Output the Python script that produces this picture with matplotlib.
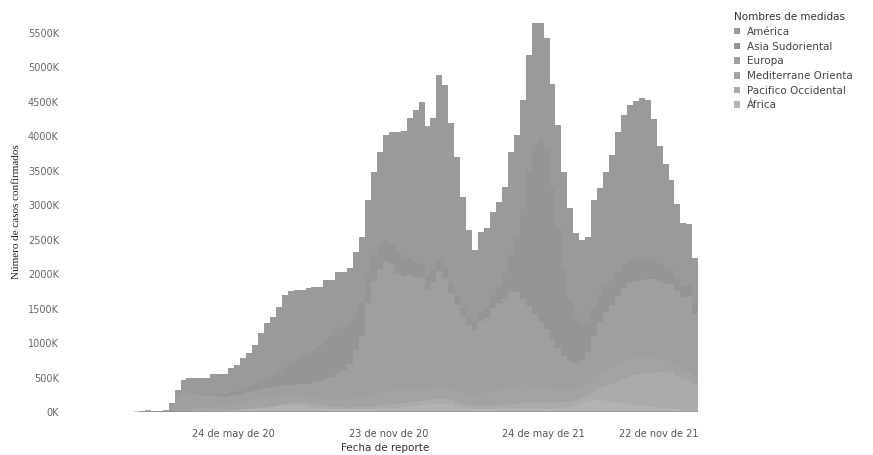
import matplotlib
matplotlib.use("Agg")
import matplotlib.pyplot as plt
from matplotlib.patches import Patch
import numpy as np
import pandas as pd

# weekly confirmed cases by WHO region, thousands
semanas = pd.date_range("2020-01-27", periods=95, freq="7D")

africa = [0, 0, 0, 0, 0, 0, 1, 2, 5, 7, 8, 9, 10, 14, 16, 18, 22, 28, 32, 38,
          45, 55, 65, 75, 85, 95, 100, 95, 85, 75, 65, 55, 50, 45, 42, 40, 40, 42, 42, 45,
          48, 52, 56, 60, 65, 70, 80, 90, 100, 105, 110, 120, 115, 100, 85, 70, 55, 48, 45, 45,
          48, 52, 55, 58, 60, 60, 58, 55, 52, 50, 50, 52, 58, 70, 90, 115, 140, 170, 175, 165,
          150, 135, 125, 110, 100, 90, 80, 70, 60, 52, 45, 40, 36, 34, 30]
pacifico = [5, 19, 24, 9, 6, 10, 6, 8, 10, 12, 14, 12, 10, 8, 7, 6, 7, 7, 8, 9,
            10, 12, 14, 18, 22, 28, 35, 40, 45, 48, 45, 40, 35, 30, 28, 26, 25, 25, 26, 30,
            35, 40, 45, 50, 52, 55, 60, 62, 66, 68, 75, 80, 78, 70, 60, 50, 42, 38, 40, 42,
            45, 48, 50, 55, 60, 65, 70, 75, 80, 85, 88, 90, 88, 85, 88, 95, 110, 140, 170, 210,
            260, 310, 360, 400, 430, 460, 480, 500, 520, 530, 520, 480, 440, 420, 380]
mediterraneo = [0, 0, 0, 0, 2, 6, 10, 15, 20, 25, 30, 35, 40, 50, 60, 70, 85, 95, 110, 120,
                130, 135, 130, 125, 115, 110, 100, 95, 90, 85, 90, 95, 100, 105, 110, 115, 125, 130, 140, 150,
                165, 180, 190, 200, 205, 200, 190, 180, 170, 160, 155, 150, 150, 155, 160, 165, 170, 175, 185, 195,
                210, 225, 240, 255, 265, 270, 260, 245, 230, 215, 200, 185, 170, 160, 155, 160, 170, 185, 205, 225,
                245, 260, 270, 275, 265, 250, 235, 215, 195, 180, 165, 150, 135, 125, 110]
europa = [0, 1, 1, 1, 2, 12, 90, 210, 240, 230, 215, 190, 175, 170, 150, 130, 125, 120, 115, 120,
          125, 130, 140, 145, 150, 155, 160, 170, 180, 200, 230, 260, 300, 330, 380, 430, 500, 700, 900, 1350,
          1650, 1800, 1900, 1820, 1700, 1650, 1650, 1620, 1600, 1450, 1550, 1700, 1600, 1400, 1250, 1100, 1000, 930, 1050, 1080,
          1200, 1250, 1300, 1380, 1350, 1250, 1150, 1050, 950, 850, 720, 600, 500, 420, 380, 380, 450, 600, 750, 850,
          900, 980, 1050, 1080, 1100, 1120, 1140, 1150, 1120, 1100, 1120, 1080, 1050, 1100, 900]
asia_sur = [0, 0, 0, 0, 0, 0, 0, 1, 2, 5, 8, 12, 15, 25, 30, 40, 55, 60, 70, 80,
            95, 120, 145, 170, 210, 260, 320, 370, 410, 440, 470, 500, 560, 610, 650, 620, 580, 540, 480, 420,
            380, 340, 310, 300, 290, 270, 250, 230, 210, 190, 170, 160, 150, 140, 130, 120, 115, 120, 130, 150,
            190, 250, 350, 550, 800, 1300, 1950, 2450, 2650, 2600, 2200, 1750, 1250, 900, 650, 500, 420, 400, 390, 380,
            360, 340, 330, 320, 310, 300, 290, 270, 250, 230, 210, 190, 170, 160, 140]
america = [0, 0, 0, 0, 0, 2, 23, 84, 188, 211, 215, 232, 245, 283, 287, 291, 346, 370, 445, 488,
           565, 698, 796, 847, 938, 1052, 1045, 1000, 965, 952, 910, 865, 865, 800, 820, 804, 820, 883, 952, 1080,
           1202, 1358, 1519, 1630, 1748, 1825, 2030, 2198, 2354, 2167, 2200, 2680, 2647, 2325, 2015, 1615, 1258, 1039, 1160, 1158,
           1207, 1225, 1265, 1472, 1485, 1585, 1692, 1765, 1678, 1620, 1502, 1483, 1414, 1325, 1237, 1250, 1250, 1585, 1560, 1650,
           1815, 2035, 2175, 2265, 2305, 2330, 2305, 2045, 1705, 1498, 1310, 1070, 909, 881, 670]

regiones = ["América", "Asia Sudoriental", "Europa", "Mediterrane Orienta",
            "Pacifico Occidental", "África"]
series = [america, asia_sur, europa, mediterraneo, pacifico, africa]
colores = ["#9a9a9a", "#959595", "#9f9f9f", "#a3a3a3", "#ababab", "#b3b3b3"]

y_ticks = list(range(0, 5501, 500))
x_ticks = ["2020-05-24", "2020-11-23", "2021-05-24", "2021-11-22"]
x_labels = ["24 de may de 20", "23 de nov de 20", "24 de may de 21", "22 de nov de 21"]

fig = plt.figure(figsize=(8.73, 4.55), dpi=100)
ax = fig.add_axes([70 / 873, 43 / 455, 630 / 873, 400 / 455])

# stack from the bottom: África first, América on top
bottom = np.zeros(len(semanas))
for nombre, vals, col in reversed(list(zip(regiones, series, colores))):
    vals = np.array(vals, dtype=float)
    ax.bar(semanas, vals, width=7, bottom=bottom, align="edge",
           color=col, edgecolor="none", linewidth=0)
    bottom += vals

ax.hlines(0, semanas[0], semanas[-1] + pd.Timedelta(days=7), color="#333333", lw=1)

ax.set_xlim(pd.Timestamp("2019-11-14"), pd.Timestamp("2021-11-24"))
ax.set_ylim(0, 5800)
for s in ax.spines.values():
    s.set_visible(False)

ax.set_yticks(y_ticks)
ax.set_yticklabels([f"{v}K" for v in y_ticks], fontsize=7, color="#666666")
ax.tick_params(axis="y", length=0, pad=8)

ax.set_xticks([pd.Timestamp(d) for d in x_ticks])
ax.set_xticklabels(x_labels, fontsize=7, color="#555555")
ax.tick_params(axis="x", length=0, pad=12)
ax.get_xticklabels()[-1].set_horizontalalignment("right")

ax.set_xlabel("Fecha de reporte", fontsize=7.5, color="#333333", labelpad=3)
ax.set_ylabel("Número de casos confirmados", fontsize=8, family="Liberation Serif",
              color="#222222", labelpad=5)

handles = [Patch(facecolor=c, edgecolor="none") for c in colores]
leg = fig.legend(handles, regiones, title="Nombres de medidas", loc="upper left",
                 bbox_to_anchor=(730 / 873, 1 - 8 / 455), frameon=False,
                 fontsize=7.5, title_fontsize=7.5, handlelength=0.6, handleheight=0.6,
                 handletextpad=0.6, labelspacing=0.45, borderaxespad=0)
leg._legend_box.align = "left"
for t in leg.get_texts():
    t.set_color("#444444")
leg.get_title().set_color("#333333")

fig.savefig("out.png", dpi=100)
